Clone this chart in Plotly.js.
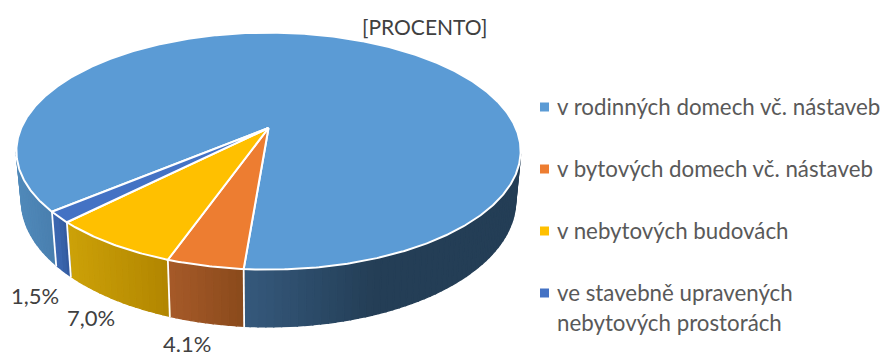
<!DOCTYPE html>
<html><head><meta charset="utf-8">
<script src="https://cdn.plot.ly/plotly-3.0.1.min.js"></script>
<style>html,body{margin:0;padding:0;background:#fff}#c{width:883px;height:352px}</style>
</head><body><div id="c"></div>
<script>
const categories = ['v rodinných domech vč. nástaveb','v bytových domech vč. nástaveb','v nebytových budovách','ve stavebně upravených<br>nebytových prostorách'];
const shareValues = [87.4, 4.1, 7.0, 1.5];
const valueLabels = ['[PROCENTO]','4.1%','7,0%','1,5%'];
const topColors = ['#5B9BD5','#ED7D31','#FFC000','#4472C4'];

// perspective of the disc
const CX=268.5, CY=128, A=247.3, B=114, K=0.195, START=50;
function proj(deg){const t=deg*Math.PI/180,u=-Math.sin(t),v=Math.cos(t),w=1-K*v;return [CX+A*u/w, CY+B*v/w];}
function lower(p){return [CX+(p[0]-CX)*0.98, p[1]+48+0.065*(p[1]-CY)];}
function hex(c){return [1,3,5].map(i=>parseInt(c.substr(i,2),16));}
function mix(stops,x){
  if(x<=stops[0][0])return stops[0][1];
  for(let i=1;i<stops.length;i++){if(x<=stops[i][0]){const f=(x-stops[i-1][0])/(stops[i][0]-stops[i-1][0]);const a=hex(stops[i-1][1]),b=hex(stops[i][1]);return 'rgb('+a.map((q,j)=>Math.round(q+(b[j]-q)*f)).join(',')+')';}}
  return stops[stops.length-1][1];
}
const sideStops=[
 [[17,'#5089B9'],[57,'#487DAD'],[244,'#35597C'],[375,'#243E56'],[520,'#243E56']],
 [[168,'#A65A29'],[243,'#8A4A1B']],
 [[68,'#CCA108'],[168,'#B18500']],
 [[55,'#3C67B0'],[70,'#2F5597']]
];
const total=shareValues.reduce((a,b)=>a+b,0);
let traces=[];
let ang=START, spans=[];
shareValues.forEach((v,i)=>{const sweep=v/total*360;spans.push([ang,ang+sweep]);ang+=sweep;});
const limit=Math.acos(K)*180/Math.PI;
function visible(a){const n=((a%360)+360)%360;return n<=limit||n>=360-limit;}
// side strips
spans.forEach((s,i)=>{
  const step=1.5;
  for(let a=s[0];a<s[1];a+=step){
    const b=Math.min(a+step,s[1]);
    if(!visible(a+1e-6)||!visible(b-1e-6))continue;
    const p=proj(a),q=proj(b),pl=lower(p),ql=lower(q);
    const col=mix(sideStops[i],(p[0]+q[0])/2);
    traces.push({type:'scatter',mode:'lines',x:[p[0],q[0],ql[0],pl[0],p[0]],y:[p[1],q[1],ql[1],pl[1],p[1]],fill:'toself',fillcolor:col,line:{color:col,width:1.4},hoverinfo:'skip',showlegend:false});
  }
});
// white seams on side
spans.forEach(s=>{
  const a=s[0];
  if(visible(a)){const p=proj(a),l=lower(p);traces.push({type:'scatter',mode:'lines',x:[p[0],l[0]],y:[p[1],l[1]+1],line:{color:'#fff',width:1.8},hoverinfo:'skip',showlegend:false});}
});
// top face
spans.forEach((s,i)=>{
  const xs=[CX],ys=[CY];
  for(let a=s[0];a<=s[1]+1e-6;a+=0.5){const p=proj(Math.min(a,s[1]));xs.push(p[0]);ys.push(p[1]);}
  const e=proj(s[1]);xs.push(e[0],CX);ys.push(e[1],CY);
  traces.push({type:'scatter',mode:'lines',x:xs,y:ys,fill:'toself',fillcolor:topColors[i],line:{color:'#fff',width:2},hoverinfo:'skip',showlegend:false});
});
// legend keys
const legendY=[107,169,231,293];
traces.push({type:'scatter',mode:'markers',x:legendY.map(()=>544.5),y:legendY,marker:{symbol:'square',size:9,color:topColors},hoverinfo:'skip',showlegend:false});
const legendFont={family:'Lato, Carlito, sans-serif',size:22.3,color:'#595959'};
const labelFont={family:'Lato, Carlito, sans-serif',size:22,color:'#404040'};
const ann=[];
categories.forEach((c,i)=>{
  const parts=c.split('<br>');
  parts.forEach((t,j)=>ann.push({x:555,y:legendY[i]-1+j*30,xref:'x',yref:'y',text:t,showarrow:false,xanchor:'left',yanchor:'middle',font:legendFont}));
});
const labelPos=[[424.5,26],[187,343],[91,317],[34.5,295]];
valueLabels.forEach((t,i)=>ann.push({x:labelPos[i][0],y:labelPos[i][1],xref:'x',yref:'y',text:t,showarrow:false,xanchor:'center',yanchor:'middle',font:i===0?Object.assign({},labelFont,{size:21}):labelFont}));
Plotly.newPlot('c',traces,{
  width:883,height:352,margin:{l:0,r:0,t:0,b:0},paper_bgcolor:'#fff',plot_bgcolor:'#fff',showlegend:false,
  xaxis:{range:[0,883],visible:false,fixedrange:true},
  yaxis:{range:[352,0],visible:false,fixedrange:true},
  annotations:ann
},{displayModeBar:false,staticPlot:true});
</script></body></html>
